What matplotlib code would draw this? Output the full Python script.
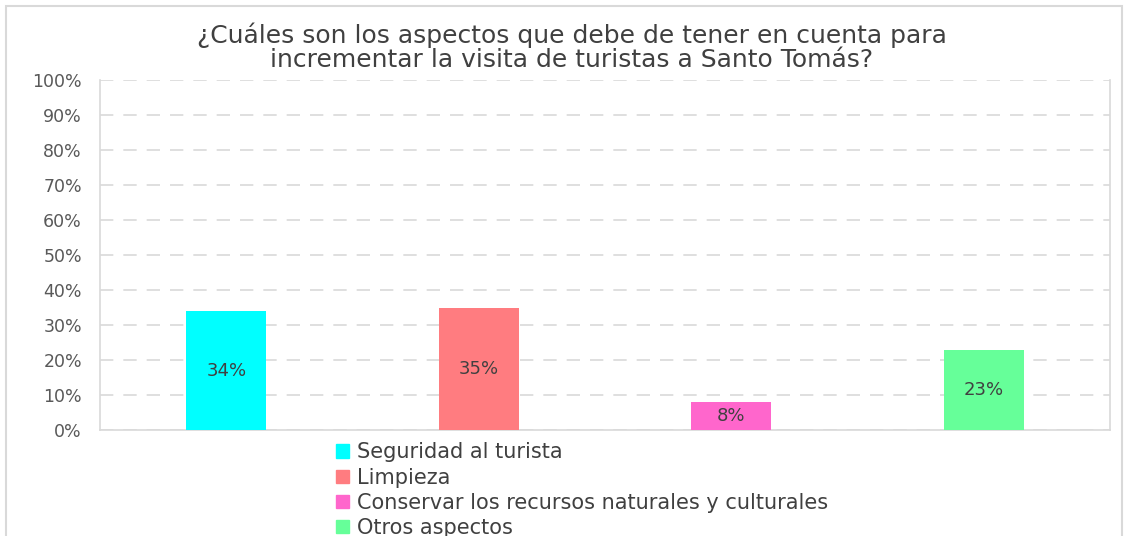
import numpy as np
import matplotlib.pyplot as plt
from matplotlib.patches import Rectangle
from matplotlib.ticker import FuncFormatter

# Data ~~~~~~~~~~~~~~~~~~~~~~~~~~~~~~~~~~~~~~~~~~~~~~~~~~~~~~~~~~~~~~~~~~~~~~~~~~~~
categories = ['Seguridad al turista', 'Limpieza',
              'Conservar los recursos naturales y culturales', 'Otros aspectos']
values = [0.34, 0.35, 0.08, 0.23]
labels = ['34%', '35%', '8%', '23%']
colors = ['#00ffff', '#ff7c80', '#ff66cc', '#66ff99']
title = '¿Cuáles son los aspectos que debe de tener en cuenta para\nincrementar la visita de turistas a Santo Tomás?'

plt.rcParams['font.family'] = 'DejaVu Sans'

# Figure ~~~~~~~~~~~~~~~~~~~~~~~~~~~~~~~~~~~~~~~~~~~~~~~~~~~~~~~~~~~~~~~~~~~~~~~~~~
W, H = 1129, 536
fig = plt.figure(figsize=(W / 100, H / 100), dpi=100)
fig.patches.append(Rectangle((6 / W, -0.1), 1116 / W, 1.1 - 6 / H, transform=fig.transFigure,
                             fill=False, edgecolor='#d9d9d9', linewidth=1.5))

ax = fig.add_axes([100 / W, 1 - 430 / H, 1010 / W, 350 / H])
x = np.arange(len(categories))
bars = ax.bar(x, values, width=0.317, color=colors, zorder=3)
for b, lab in zip(bars, labels):
    ax.text(b.get_x() + b.get_width() / 2, b.get_height() / 2, lab, ha='center', va='center',
            fontsize=13, color='#404040', zorder=4)

ax.set_xlim(-0.5, len(categories) - 0.5)
ax.set_ylim(0, 1)
ax.set_yticks(np.arange(0, 1.01, 0.1))
ax.yaxis.set_major_formatter(FuncFormatter(lambda v, p: '%d%%' % round(v * 100)))
ax.set_xticks([])
ax.tick_params(axis='y', length=0, pad=13, labelsize=12.5, labelcolor='#595959')
ax.grid(axis='y', color='#d9d9d9', linestyle=(0, (8, 6)), linewidth=1.2, zorder=0)
for s in ['left', 'right', 'bottom']:
    ax.spines[s].set_color('#d9d9d9')
    ax.spines[s].set_linewidth(1.2)
ax.spines['top'].set_visible(False)

fig.text(572 / W, 1 - 47 / H, title, ha='center', va='center', fontsize=18,
         color='#404040', linespacing=1.0)

handles = [Rectangle((0, 0), 1, 1, color=c) for c in colors]
fig.legend(handles, categories, loc='upper left', bbox_to_anchor=(326 / W, 1 - 432 / H),
           frameon=False, labelcolor='#404040', handlelength=0.6, handleheight=0.6,
           handletextpad=0.4, labelspacing=0.25, borderpad=0, prop={'size': 15})

fig.savefig('out.png', dpi=100)
